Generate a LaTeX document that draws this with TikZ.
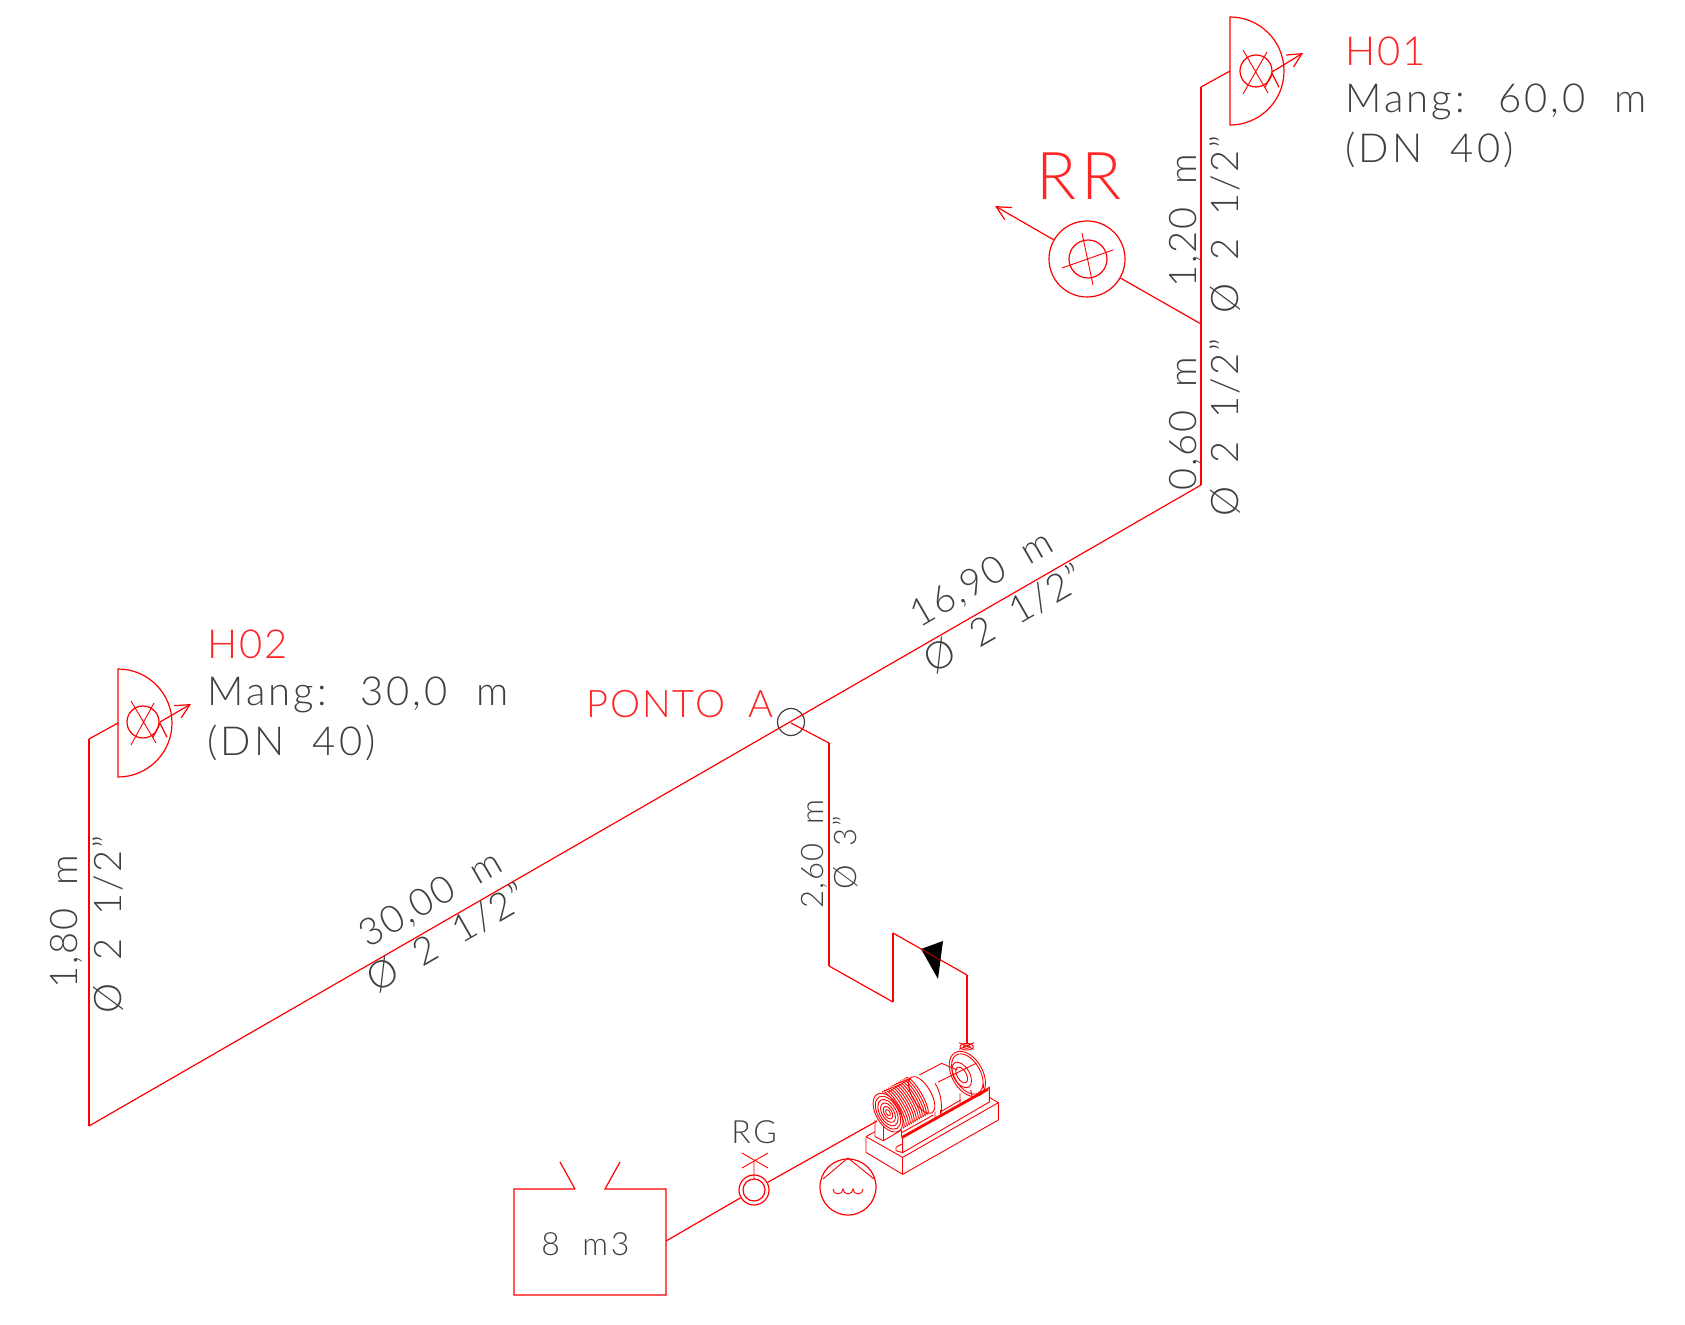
\documentclass[tikz,border=0pt]{standalone}
\usepackage{fontspec}
\usetikzlibrary{arrows.meta}
\newfontfamily\cadfont{Lato}[UprightFont=* Light,LetterSpace=8,WordSpace=2.0]
\newfontfamily\dimfont{Lato}[UprightFont=* Light,LetterSpace=5,WordSpace=1.9]
\tikzset{
pipe/.style={-,draw=red,line width=.6pt},
tip/.style={-{Straight Barb[length=7pt,width=7pt]},draw=red,line width=.6pt},
part/.style={draw=red,line width=.45pt},
lbl/.style={font=\cadfont\fontsize{20}{24}\selectfont,inner sep=0pt,anchor=base west,text=black!75},
dim/.style={lbl,font=\dimfont\fontsize{19}{22}\selectfont},
dimsmall/.style={lbl,font=\dimfont\fontsize{15.5}{18}\selectfont},
lblsmall/.style={lbl,font=\cadfont\fontsize{16}{18}\selectfont},
tag/.style={lbl,font=\dimfont\fontsize{20}{24}\selectfont,text=red!85},
ring/.style={shape=circle,draw=red,line width=.6pt,inner sep=0pt},
}
\begin{document}
\begin{tikzpicture}[x=.5pt,y=-.5pt]
\useasboundingbox (0,0) rectangle (1685,1325);
% corners of the pipe run
\coordinate (elbowH02) at (89,739);
\coordinate (low) at (89,1126);
\coordinate (teeA) at (791,723);
\coordinate (high) at (1201,485);
\coordinate (teeRR) at (1201,324);
\coordinate (elbowH01) at (1201,87);
\coordinate (c1) at (829,743);
\coordinate (c2) at (829,966);
\coordinate (c3) at (893,1002);
\coordinate (c4) at (893,933);
\coordinate (c5) at (967,975);
\coordinate (c6) at (967,1043);
\coordinate (H01in) at (1230,71);
\coordinate (H02in) at (118,723);
\coordinate (tankout) at (666,1241);
\coordinate (motorin) at (877,1121);
% hydrants and valves
\node[ring,minimum size=16pt] (H01eye) at (1256,71) {};
\node[ring,minimum size=16pt] (H02eye) at (143,722) {};
\node[ring,minimum size=38pt] (RRout) at (1087,259) {};
\node[ring,minimum size=19pt] (RRin) at (1088,259) {};
\node[ring,minimum size=15pt] (RGout) at (754,1190) {};
\node[ring,minimum size=11pt] (RGin) at (754,1190) {};
\node[ring,minimum size=28pt] (bomb) at (848,1187) {};
\node[shape=circle,draw=black!75,line width=.6pt,inner sep=0pt,minimum size=13.5pt] (pontoA) at (791,722) {};
\coordinate (H01out) at (1272,72);
\coordinate (H01tip) at (1303,53);
\coordinate (H02out) at (160,722);
\coordinate (H02tip) at (191,704);
\coordinate (RRtip) at (995,206);
% pipe
\path [pipe] (low) edge (elbowH02);
\path [pipe] (elbowH02) edge (H02in);
\path [pipe] (low) edge (high);
\path [pipe] (high) edge (elbowH01);
\path [pipe] (elbowH01) edge (H01in);
\path [pipe] (teeRR) edge (RRout);
\path [pipe] (teeA) edge (c1);
\path [pipe] (c1) edge (c2);
\path [pipe] (c2) edge (c3);
\path [pipe] (c3) edge (c4);
\path [pipe] (c4) edge (c5);
\path [pipe] (c5) edge (c6);
\path [pipe] (tankout) edge (RGout);
\path [pipe] (RGout) edge (motorin);
\path [tip] (H01out) edge (H01tip);
\path [tip] (H02out) edge (H02tip);
\path [tip] (RRout) edge (RRtip);
% check valve
\fill[black] (921,949) -- (943,941) -- (938,979) -- cycle;
\draw[red!70!black,line width=.5pt] (921,949) -- (940,960);
% hydrant bodies
\draw[pipe] (1230,17) arc (-90:90:54) -- cycle;
\draw[pipe] (118,669) arc (-90:90:54) -- cycle;
\draw[part] (1243,50) -- (1268,93) (1267,52) -- (1243,94);
\draw[part] (131,701) -- (156,743) (154,703) -- (131,745);
\draw[part] (1082,233) -- (1093,285) (1062,268) -- (1113,250);
% RG valve stem
\draw[part] (754,1179) -- (754,1160) (742,1153) -- (768,1168) (742,1168) -- (768,1153);
% tank
\draw[pipe] (575,1189) -- (514,1189) -- (514,1295) -- (666,1295) -- (666,1189) -- (605,1189) -- (620,1162);
\draw[pipe] (575,1189) -- (560,1162);
% intake symbol
\draw[part] (823,1179) -- (848,1158) -- (874,1179);
\draw[part] (833,1189) arc (180:0:5) arc (180:0:5) arc (180:0:5);
% pump set
\begin{scope}[shift={(820,920)},scale=1/3]
\draw[part] (138,650) -- (248,712) -- (535,548) -- (508,532);
\draw[part] (138,650) -- (165,635);
\draw[part] (138,650) -- (138,697) -- (248,763) -- (535,600) -- (535,548);
\draw[part] (248,712) -- (248,763);
\draw[part] (165,600) -- (165,650) -- (190,662) -- (245,630);
\draw[part] (228,682) -- (228,692) -- (248,698) -- (508,546) -- (508,502) -- (248,648) -- (248,698);
\draw[part] (228,682) -- (246,672);
\draw[part] (245,652) -- (505,506) (245,656) -- (505,510);
\draw[part] (190,620) -- (190,660) (245,630) -- (245,650);
\draw[part] (345,575) -- (345,596) (362,570) -- (362,588) (420,520) -- (420,552) (452,510) -- (456,528) (490,492) -- (490,505);
\foreach \r in {1,.85,.68,.5,.32,.16}
  \draw[part,rotate around={30:(204,578)}] (204,578) ellipse ({36*\r} and {64*\r});
\foreach \t in {0,...,12}
  \draw[part,rotate around={30:({218+6*\t},{570-3.5*\t})}] ({218+6*\t},{506-3.5*\t}) arc (-90:90:16 and 64);
\draw[part] (205,516) -- (272,474) (245,638) -- (340,585);
\draw[part,rotate around={30:(305,525)}] (305,525) ellipse (28 and 62);
\draw[part] (298,465) -- (365,430) -- (412,450);
\draw[part] (345,490) .. controls (362,515) and (366,550) .. (364,578);
\draw[part] (362,575) -- (422,540);
\draw[part] (355,486) -- (468,430);
\draw[part,rotate around={30:(442,462)}] (442,462) ellipse (46 and 74);
\draw[part,rotate around={30:(442,462)}] (442,462) ellipse (39 and 66);
\draw[part,rotate around={30:(425,465)}] (425,465) ellipse (24 and 42);
\draw[part,rotate around={30:(425,465)}] (425,465) ellipse (14 and 26);
\draw[part] (440,380) ellipse (20 and 10) (440,380) ellipse (10 and 5);
\draw[part] (417,368) -- (462,388) (462,368) -- (417,388);
\end{scope}
% labels
\node[tag] (tH01) at (1345,66) {H01};
\node[lbl] (tM1) at (1345,113) {Mang: 60,0 m};
\node[lbl] (tD1) at (1345,163) {(DN 40)};
\node[tag] (tH02) at (207,658) {H02};
\node[lbl] (tM2) at (207,705) {Mang: 30,0 m};
\node[lbl] (tD2) at (207,755) {(DN 40)};
\node[tag,font=\dimfont\fontsize{19}{22}\selectfont] (tA) at (586,717) {PONTO A};
\node[tag,font=\cadfont\fontsize{33}{36}\selectfont] (tRR) at (1036,200) {RR};
\node[lblsmall] (tRG) at (731,1143) {RG};
\node[lblsmall] (tV) at (541,1255) {8 m3};
\node[dim,rotate=90] (a1) at (77,989) {1,80 m};
\node[dim,rotate=90] (a2) at (121,1014) {Ø 2 1/2”};
\node[dim,rotate=30] (a3) at (368,949) {30,00 m};
\node[dim,rotate=30] (a4) at (376,994) {Ø 2 1/2”};
\node[dim,rotate=30] (a5) at (919,629) {16,90 m};
\node[dim,rotate=30] (a6) at (933,675) {Ø 2 1/2”};
\node[dimsmall,rotate=90] (a7) at (823,909) {2,60 m};
\node[dimsmall,rotate=90] (a8) at (856,890) {Ø 3”};
\node[dim,rotate=90] (a9) at (1196,491) {0,60 m};
\node[dim,rotate=90] (a10) at (1238,517) {Ø 2 1/2”};
\node[dim,rotate=90] (a11) at (1196,288) {1,20 m};
\node[dim,rotate=90] (a12) at (1238,314) {Ø 2 1/2”};
\end{tikzpicture}
\end{document}
